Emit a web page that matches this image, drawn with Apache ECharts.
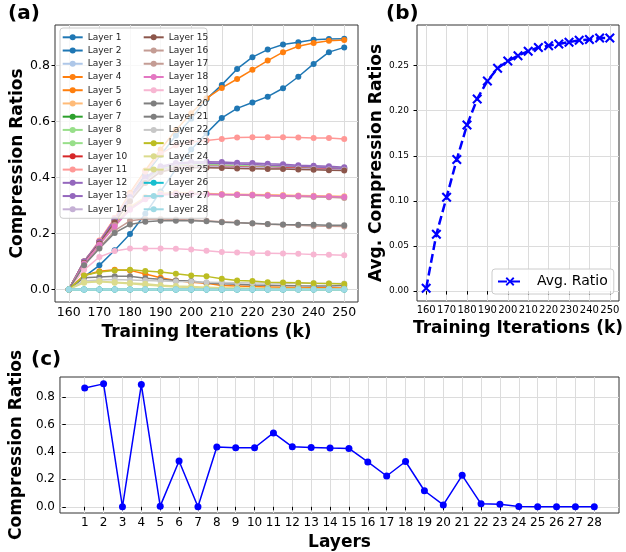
<!DOCTYPE html>
<html><head><meta charset="utf-8">
<script src="https://cdn.jsdelivr.net/npm/echarts@6/dist/echarts.min.js"></script>
<style>html,body{margin:0;padding:0;background:#fff}#chart{width:626px;height:552px}</style>
</head><body><div id="chart"></div>
<script>
// ---------- data ----------
const iterations = [160,165,170,175,180,185,190,195,200,205,210,215,220,225,230,235,240,245,250];
const layer1  = [0,0.045,0.086,0.14,0.198,0.27,0.35,0.43,0.50,0.558,0.613,0.647,0.668,0.689,0.719,0.76,0.806,0.848,0.865];
const layer2  = [0,0.09,0.165,0.245,0.33,0.41,0.48,0.55,0.61,0.68,0.731,0.788,0.83,0.857,0.875,0.883,0.892,0.895,0.896];
const layer3  = [0,0,0,0,0,0,0,0,0,0,0,0,0,0,0,0,0,0,0];
const layer4  = [0,0.095,0.17,0.255,0.345,0.425,0.50,0.57,0.63,0.683,0.72,0.752,0.785,0.818,0.848,0.869,0.881,0.889,0.891];
const layer5  = [0,0.05,0.065,0.07,0.068,0.055,0.042,0.032,0.026,0.022,0.014,0.012,0.01,0.009,0.008,0.007,0.006,0.006,0.005];
const layer6  = [0,0.095,0.165,0.235,0.295,0.33,0.343,0.346,0.345,0.343,0.341,0.34,0.339,0.338,0.337,0.336,0.335,0.334,0.333];
const layer7  = [0,0,0,0,0,0,0,0,0,0,0,0,0,0,0,0,0,0,0];
const layer8  = [0,0.1,0.17,0.245,0.32,0.39,0.43,0.445,0.448,0.447,0.445,0.443,0.441,0.44,0.439,0.438,0.437,0.436,0.435];
const layer9  = [0,0.1,0.17,0.245,0.32,0.385,0.425,0.44,0.443,0.442,0.44,0.438,0.437,0.436,0.435,0.434,0.432,0.431,0.43];
const layer10 = [0,0.1,0.17,0.245,0.32,0.385,0.425,0.438,0.441,0.44,0.439,0.438,0.437,0.436,0.435,0.434,0.432,0.431,0.43];
const layer11 = [0,0.1,0.175,0.255,0.34,0.42,0.485,0.515,0.527,0.532,0.538,0.5425,0.544,0.544,0.544,0.5425,0.541,0.541,0.538];
const layer12 = [0,0.1,0.17,0.25,0.33,0.4,0.44,0.452,0.455,0.456,0.455,0.453,0.452,0.449,0.447,0.444,0.442,0.44,0.437];
const layer13 = [0,0.1,0.17,0.248,0.325,0.395,0.435,0.448,0.451,0.451,0.45,0.448,0.446,0.444,0.442,0.44,0.438,0.435,0.432];
const layer14 = [0,0.095,0.165,0.24,0.32,0.385,0.425,0.437,0.44,0.44,0.438,0.437,0.436,0.435,0.433,0.432,0.43,0.429,0.4275];
const layer15 = [0,0.095,0.165,0.24,0.315,0.38,0.42,0.432,0.435,0.435,0.434,0.432,0.431,0.43,0.43,0.429,0.428,0.426,0.425];
const layer16 = [0,0.092,0.16,0.23,0.29,0.325,0.338,0.341,0.34,0.339,0.338,0.337,0.336,0.335,0.333,0.332,0.33,0.329,0.327];
const layer17 = [0,0.088,0.15,0.21,0.245,0.252,0.252,0.25,0.248,0.245,0.242,0.239,0.236,0.233,0.231,0.229,0.227,0.226,0.2245];
const layer18 = [0,0.092,0.16,0.225,0.285,0.322,0.337,0.341,0.341,0.34,0.339,0.338,0.337,0.336,0.335,0.334,0.333,0.332,0.33];
const layer19 = [0,0.07,0.116,0.137,0.146,0.146,0.146,0.145,0.1425,0.138,0.134,0.132,0.13,0.129,0.128,0.127,0.125,0.124,0.122];
const layer20 = [0,0.042,0.044,0.047,0.047,0.04,0.036,0.032,0.03,0.023,0.02,0.018,0.016,0.015,0.014,0.013,0.0125,0.0125,0.014];
const layer21 = [0,0.086,0.146,0.202,0.232,0.242,0.245,0.245,0.245,0.244,0.24,0.238,0.2366,0.234,0.232,0.231,0.231,0.2294,0.229];
const layer22 = [0,0.03,0.034,0.035,0.034,0.032,0.03,0.028,0.027,0.026,0.025,0.024,0.023,0.023,0.022,0.022,0.022,0.0215,0.0215];
const layer23 = [0,0.05,0.062,0.068,0.07,0.066,0.062,0.056,0.05,0.0466,0.038,0.032,0.03,0.026,0.025,0.0235,0.022,0.021,0.019];
const layer24 = [0,0.026,0.029,0.026,0.023,0.02,0.015,0.012,0.01,0.008,0.006,0.005,0.004,0.003,0.003,0.003,0.002,0.002,0.0024];
const layer25 = [0,0.024,0.027,0.024,0.02,0.016,0.012,0.009,0.007,0.005,0.004,0.003,0.002,0.001,0.001,0,0,0,0];
const layer26 = [0,0,0,0,0,0,0,0,0,0,0,0,0,0,0,0,0,0,0];
const layer27 = [0,0,0,0,0,0,0,0,0,0,0,0,0,0,0,0,0,0,0];
const layer28 = [0,0,0,0,0,0,0,0,0,0,0,0,0,0,0,0,0,0,0];
const avgRatio = [0.003,0.063,0.104,0.146,0.184,0.213,0.233,0.247,0.255,0.261,0.266,0.27,0.272,0.274,0.276,0.278,0.279,0.2805,0.2805];
const layerIndex = [1,2,3,4,5,6,7,8,9,10,11,12,13,14,15,16,17,18,19,20,21,22,23,24,25,26,27,28];
const finalRatios = [0.865,0.895,0.0,0.89,0.005,0.333,0.0,0.435,0.43,0.43,0.538,0.437,0.432,0.4275,0.425,0.327,0.2245,0.33,0.117,0.014,0.229,0.0215,0.019,0.0024,0,0,0,0];
const iterTicks = [160,170,180,190,200,210,220,230,240,250];
const ratioTicksA = [0,0.2,0.4,0.6,0.8];
const ratioTicksB = [0,0.05,0.1,0.15,0.2,0.25];
const ratioTicksC = [0,0.2,0.4,0.6,0.8];

// ---------- styling ----------
const layers = [layer1,layer2,layer3,layer4,layer5,layer6,layer7,layer8,layer9,layer10,layer11,layer12,layer13,layer14,
  layer15,layer16,layer17,layer18,layer19,layer20,layer21,layer22,layer23,layer24,layer25,layer26,layer27,layer28];
const palette = ['#1f77b4','#1f77b4','#aec7e8','#ff7f0e','#ff7f0e','#ffbb78','#2ca02c','#98df8a','#98df8a','#d62728',
  '#ff9896','#9467bd','#9467bd','#c5b0d5','#8c564b','#c49c94','#c49c94','#e377c2','#f7b6d2','#7f7f7f','#7f7f7f',
  '#c7c7c7','#bcbd22','#dbdb8d','#dbdb8d','#17becf','#9edae5','#9edae5'];
const FF = 'DejaVu Sans';
const gridLine = {show:true, lineStyle:{color:'#dcdcdc', width:1}};
const titleStyle = {fontFamily:FF, fontSize:17, fontWeight:'bold', color:'#000'};
function xAx(gi, min, max, ticks, fs, name, gap) {
  return {gridIndex:gi, type:'value', min:min, max:max,
    axisLine:{show:false},
    axisTick:{show:true, customValues:ticks, length:3.5, lineStyle:{color:'#000'}},
    axisLabel:{customValues:ticks, fontSize:fs, fontFamily:FF, color:'#000', margin:4,
      showMinLabel:true, showMaxLabel:true, hideOverlap:false},
    splitLine:gridLine,
    name:name, nameLocation:'middle', nameGap:gap, nameTextStyle:titleStyle};
}
function yAx(gi, min, max, ticks, fs, dec, name, gap, margin) {
  return {gridIndex:gi, type:'value', min:min, max:max,
    axisLine:{show:false},
    axisTick:{show:true, customValues:ticks, length:3.5, lineStyle:{color:'#000'}},
    axisLabel:{customValues:ticks, fontSize:fs, fontFamily:FF, color:'#000', margin:margin,
      showMinLabel:true, showMaxLabel:true, formatter:v => v.toFixed(dec)},
    splitLine:gridLine,
    name:name, nameLocation:'middle', nameGap:gap, nameTextStyle:titleStyle};
}
const xMark = 'path://M0,1.5L1.5,0L5,3.5L8.5,0L10,1.5L6.5,5L10,8.5L8.5,10L5,6.5L1.5,10L0,8.5L3.5,5Z';

const series = [];
layers.forEach((vals, i) => {
  series.push({type:'line', name:'Layer ' + (i+1), xAxisIndex:0, yAxisIndex:0,
    data: iterations.map((x, j) => [x, vals[j]]),
    symbol:'circle', symbolSize:6, showSymbol:true,
    lineStyle:{width:1.5, color:palette[i]}, itemStyle:{color:palette[i]},
    emphasis:{disabled:true}, silent:true});
});
series.push({type:'line', name:'Avg. Ratio', xAxisIndex:1, yAxisIndex:1,
  data: iterations.map((x, j) => [x, avgRatio[j]]),
  symbol:xMark, symbolSize:10, showSymbol:true,
  lineStyle:{width:2.5, color:'#0000ff', type:[9,4]}, itemStyle:{color:'#0000ff'},
  emphasis:{disabled:true}, silent:true});
series.push({type:'line', name:'final', xAxisIndex:2, yAxisIndex:2,
  data: layerIndex.map((x, j) => [x, finalRatios[j]]),
  symbol:'circle', symbolSize:7, showSymbol:true,
  lineStyle:{width:1.5, color:'#0000ff'}, itemStyle:{color:'#0000ff'},
  emphasis:{disabled:true}, silent:true});

const legText = {fontFamily:FF, fontSize:9, color:'#222', lineHeight:12};
const option = {
  animation:false,
  backgroundColor:'#fff',
  title:[
    {text:'(a)', left:8, top:4, padding:0, textStyle:{fontFamily:FF, fontSize:20, fontWeight:'bold', color:'#000'}},
    {text:'(b)', left:386, top:4, padding:0, textStyle:{fontFamily:FF, fontSize:20, fontWeight:'bold', color:'#000'}},
    {text:'(c)', left:31, top:350, padding:0, textStyle:{fontFamily:FF, fontSize:20, fontWeight:'bold', color:'#000'}}
  ],
  grid:[
    {left:55, top:25, width:303, height:277, show:true, borderColor:'#333', borderWidth:1, containLabel:false},
    {left:417, top:25, width:202, height:276, show:true, borderColor:'#333', borderWidth:1, containLabel:false},
    {left:55, top:377, width:564, height:137, show:true, borderColor:'#333', borderWidth:1, containLabel:false}
  ],
  xAxis:[
    xAx(0, 155.5, 254.5, iterTicks, 12.5, 'Training Iterations (k)', 20),
    xAx(1, 155.5, 254.5, iterTicks, 10, 'Training Iterations (k)', 19),
    xAx(2, -0.31, 29.31, layerIndex, 12, 'Layers', 21)
  ],
  yAxis:[
    yAx(0, -0.045, 0.945, ratioTicksA, 12.5, 1, 'Compression Ratios', 29, 5),
    yAx(1, -0.011, 0.295, ratioTicksB, 9, 2, 'Avg. Compression Ratios', 32, 8),
    yAx(2, -0.045, 0.945, ratioTicksC, 12, 1, 'Compression Ratios', 29, 5)
  ],
  legend:[
    {orient:'vertical', left:60, top:28, padding:[3.3, 80, 3, 1.7], itemGap:1.23, itemWidth:20, itemHeight:7.5,
     backgroundColor:'rgba(255,255,255,0.8)', borderColor:'#cccccc', borderWidth:1, borderRadius:3,
     data: layerIndex.slice(0,14).map(n => 'Layer ' + n), textStyle:legText, selectedMode:false, z:10},
    {orient:'vertical', left:142.7, top:31.3, padding:0, itemGap:1.23, itemWidth:20, itemHeight:7.5,
     data: layerIndex.slice(14).map(n => 'Layer ' + n), textStyle:legText, selectedMode:false, z:11},
    {orient:'vertical', left:492, top:269, padding:[5, 6, 5, 5], itemWidth:24, itemHeight:11,
     backgroundColor:'rgba(255,255,255,0.8)', borderColor:'#cccccc', borderWidth:1, borderRadius:3,
     data:['Avg. Ratio'], textStyle:{fontFamily:FF, fontSize:14, color:'#000', lineHeight:15, padding:[0,0,0,10]},
     selectedMode:false, z:10}
  ],
  series: series
};
const chart = echarts.init(document.getElementById('chart'), null, {renderer:'canvas'});
chart.setOption(option);
</script></body></html>
